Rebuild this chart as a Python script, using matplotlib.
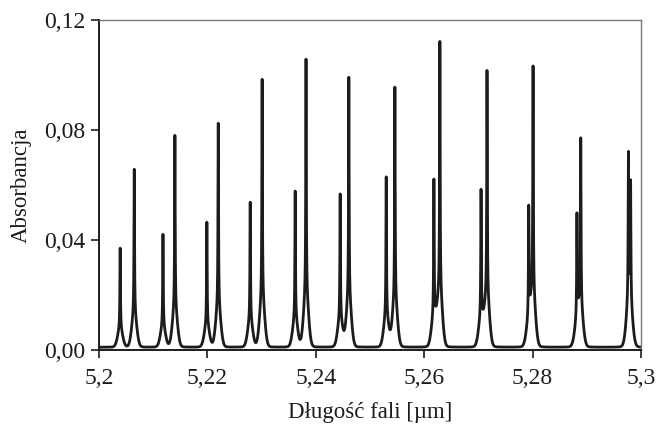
import matplotlib
matplotlib.use('Agg')
import matplotlib.pyplot as plt
import numpy as np

# Linie absorpcyjne: położenie [um] i wysokość nad tłem
line_pos = [5.2039, 5.2065, 5.2118, 5.2140, 5.2199, 5.2220, 5.2279, 5.2301,
            5.2362, 5.2382, 5.2445, 5.2461, 5.2530, 5.2546, 5.2618, 5.2629,
            5.2705, 5.2716, 5.2793, 5.2801, 5.2882, 5.2889, 5.2977, 5.2981]
line_height = [0.0360, 0.0647, 0.0410, 0.0770, 0.0454, 0.0814, 0.0527, 0.0974,
               0.0567, 0.1047, 0.0556, 0.0981, 0.0618, 0.0945, 0.0599, 0.1105,
               0.0563, 0.1000, 0.0475, 0.1003, 0.0445, 0.0735, 0.0640, 0.0520]
baseline = 0.001

x_ticks = [5.2, 5.22, 5.24, 5.26, 5.28, 5.3]
x_labels = ['5,2', '5,22', '5,24', '5,26', '5,28', '5,3']
y_ticks = [0.0, 0.04, 0.08, 0.12]
y_labels = ['0,00', '0,04', '0,08', '0,12']

# widmo: wąski rdzeń Lorentza + szersza podstawa (Gauss)
wl = np.linspace(5.2, 5.3, 20001)
absorb = np.full_like(wl, baseline)
for c, h in zip(line_pos, line_height):
    absorb += 0.82 * h / (1 + ((wl - c) / 0.00006) ** 2)
    absorb += 0.18 * h * np.exp(-0.5 * ((wl - c) / 0.00045) ** 2)

plt.rcParams['font.family'] = 'serif'
plt.rcParams['font.serif'] = ['Liberation Serif', 'DejaVu Serif']

fig = plt.figure(figsize=(6.58, 4.24), dpi=100)
ax = fig.add_axes([0.1505, 0.1745, 0.8235, 0.7783])

ax.plot(wl, absorb, color='#1c1c1c', lw=2.0)

ax.set_xlim(5.2, 5.3)
ax.set_ylim(0, 0.12)
ax.set_xticks(x_ticks)
ax.set_xticklabels(x_labels)
ax.set_yticks(y_ticks)
ax.set_yticklabels(y_labels)
ax.tick_params(axis='both', direction='out', length=6, width=1.2,
               labelsize=17, colors='#1c1c1c', pad=4)
ax.tick_params(axis='x', pad=7)

for s in ['left', 'bottom']:
    ax.spines[s].set_linewidth(1.4)
    ax.spines[s].set_color('#1c1c1c')
for s in ['top', 'right']:
    ax.spines[s].set_linewidth(1.0)
    ax.spines[s].set_color('#777777')

ax.set_xlabel('Długość fali [µm]', fontsize=16.5, color='#1c1c1c', labelpad=9)
ax.set_ylabel('Absorbancja', fontsize=16.5, color='#1c1c1c', labelpad=9)

plt.savefig('out.png', dpi=100)
